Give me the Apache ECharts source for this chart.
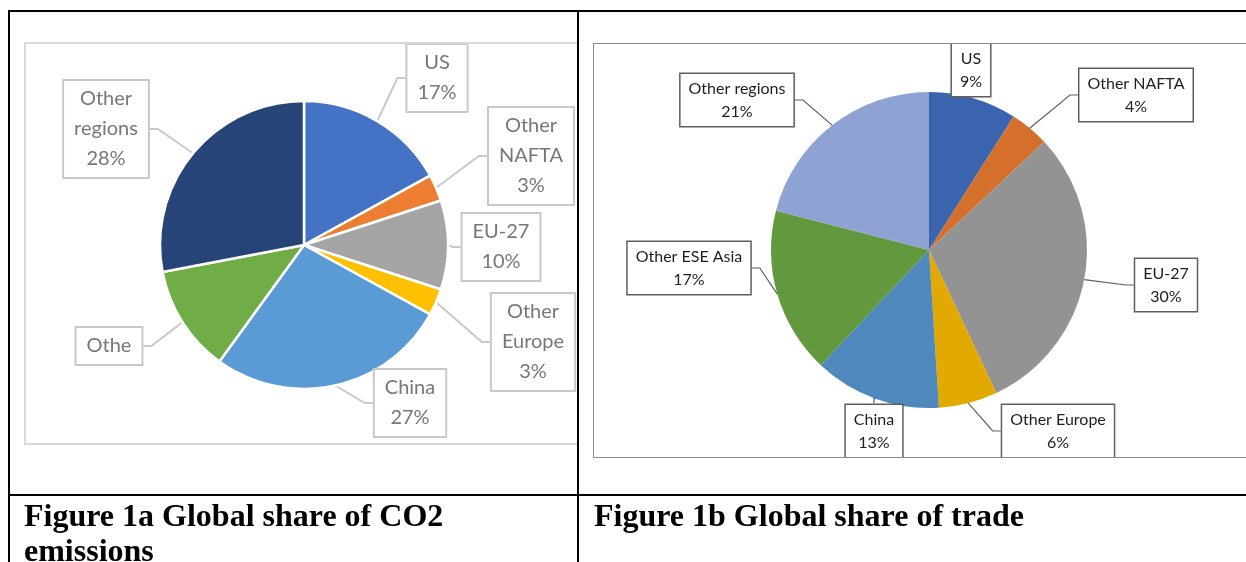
<!DOCTYPE html>
<html>
<head>
<meta charset="utf-8">
<title>Global share of CO2 emissions and trade</title>
<script src="https://cdn.jsdelivr.net/npm/echarts@6/dist/echarts.min.js"></script>
<style>
  html, body { margin: 0; padding: 0; background: #fff; width: 1246px; height: 562px; overflow: hidden; }
  #page { position: absolute; left: 0; top: 0; width: 1246px; height: 562px; }
  .frame { position: absolute; overflow: hidden; background: #fff; box-sizing: border-box; }
  #co2Frame { left: 24px; top: 42px; width: 553px; height: 403px;
              border-left: 2px solid #d9d9d9; border-top: 2px solid #d9d9d9; border-bottom: 2px solid #d9d9d9; }
  #tradeFrame { left: 593px; top: 43px; width: 660px; height: 415px;
                border: 1px solid #8a8a8a; }
  .chart { position: absolute; left: 0; top: 0; }
  #co2Chart { width: 551px; height: 399px; }
  #tradeChart { width: 658px; height: 413px; }
</style>
</head>
<body>
<div id="page"></div>
<div id="co2Frame" class="frame"><div id="co2Chart" class="chart"></div></div>
<div id="tradeFrame" class="frame"><div id="tradeChart" class="chart"></div></div>
<script>
// Figure 1a: global share of CO2 emissions (%)
const co2Regions = ['US', 'Other NAFTA', 'EU-27', 'Other Europe', 'China', 'Other ESE Asia', 'Other regions'];
const co2Share = [17, 3, 10, 3, 27, 12, 28];
// label text as printed on the callouts (the ESE Asia callout is cut short)
const co2LabelText = ['US', 'Other\nNAFTA', 'EU-27', 'Other\nEurope', 'China', 'Othe', 'Other\nregions'];
const co2ShowValue = [true, true, true, true, true, false, true];

// Figure 1b: global share of trade (%)
const tradeRegions = ['US', 'Other NAFTA', 'EU-27', 'Other Europe', 'China', 'Other ESE Asia', 'Other regions'];
const tradeShare = [9, 4, 30, 6, 13, 17, 21];

// captions
const captionA = ['Figure 1a Global share of CO2', 'emissions'];
const captionB = ['Figure 1b Global share of trade'];

// colours
const co2Colors = ['#4472c4', '#ed7d31', '#a5a5a5', '#ffc000', '#5b9bd5', '#70ad47', '#264478'];
const tradeColors = ['#3a64ad', '#d4702c', '#939393', '#e2aa00', '#4f88bc', '#62983e', '#8ea3d3'];

// callout box centres inside each chart
const co2LabelPos = [[411, 34], [505, 112], [475, 203], [507, 298], [384, 359], [83, 302], [80, 85]];
const tradeLabelPos = [[377, 26], [542, 51], [572, 241], [464, 387], [280, 387], [95, 224], [143, 56]];

// ---- table grid and captions ----
const page = echarts.init(document.getElementById('page'), null, { renderer: 'canvas' });
const lineStyle = { fill: '#000' };
const capFont = 'bold 32px "Liberation Serif", "Times New Roman", serif';
const pageGraphics = [
  { type: 'rect', shape: { x: 8, y: 10, width: 1238, height: 2 }, style: lineStyle },
  { type: 'rect', shape: { x: 8, y: 10, width: 2, height: 552 }, style: lineStyle },
  { type: 'rect', shape: { x: 577, y: 10, width: 2, height: 552 }, style: lineStyle },
  { type: 'rect', shape: { x: 8, y: 494, width: 1238, height: 2 }, style: lineStyle }
];
captionA.forEach((t, i) => pageGraphics.push({
  type: 'text', style: { text: t, x: 24, y: 518 + i * 35, font: capFont, fill: '#000', verticalAlign: 'middle' }
}));
captionB.forEach((t, i) => pageGraphics.push({
  type: 'text', style: { text: t, x: 594, y: 518 + i * 35, font: capFont, fill: '#000', verticalAlign: 'middle' }
}));
page.setOption({ animation: false, graphic: pageGraphics });

// ---- Figure 1a pie ----
const co2Chart = echarts.init(document.getElementById('co2Chart'));
co2Chart.setOption({
  animation: false,
  color: co2Colors,
  series: [{
    type: 'pie',
    center: [278, 201],
    radius: 144,
    startAngle: 90,
    clockwise: true,
    avoidLabelOverlap: false,
    itemStyle: { borderColor: '#fff', borderWidth: 2.5 },
    data: co2Regions.map((name, i) => ({ name, value: co2Share[i] })),
    label: {
      show: true,
      position: 'outside',
      formatter: p => co2ShowValue[p.dataIndex]
        ? co2LabelText[p.dataIndex] + '\n' + p.value + '%'
        : co2LabelText[p.dataIndex],
      fontFamily: 'Lato, "Noto Sans", sans-serif',
      fontSize: 20,
      lineHeight: 30,
      color: '#777777',
      align: 'center',
      backgroundColor: '#fff',
      borderColor: '#c9c9c9',
      borderWidth: 2,
      padding: [3, 10]
    },
    labelLine: { show: true, length: 12, length2: 8, lineStyle: { color: '#c9c9c9', width: 2 } },
    labelLayout: p => ({
      x: co2LabelPos[p.dataIndex][0],
      y: co2LabelPos[p.dataIndex][1],
      align: 'center',
      verticalAlign: 'middle'
    })
  }]
});

// ---- Figure 1b pie ----
const tradeChart = echarts.init(document.getElementById('tradeChart'));
tradeChart.setOption({
  animation: false,
  color: tradeColors,
  series: [{
    type: 'pie',
    center: [335, 206],
    radius: 158,
    startAngle: 90,
    clockwise: true,
    avoidLabelOverlap: false,
    itemStyle: { borderWidth: 0 },
    data: tradeRegions.map((name, i) => ({ name, value: tradeShare[i] })),
    label: {
      show: true,
      position: 'outside',
      formatter: p => p.name + '\n' + p.value + '%',
      fontFamily: 'Lato, "Noto Sans", sans-serif',
      fontSize: 16,
      lineHeight: 23,
      color: '#1e1e1e',
      align: 'center',
      backgroundColor: '#fff',
      borderColor: '#5e5e5e',
      borderWidth: 1.5,
      padding: [3, 8]
    },
    labelLine: { show: true, length: 12, length2: 8, lineStyle: { color: '#5e5e5e', width: 1.2 } },
    labelLayout: p => ({
      x: tradeLabelPos[p.dataIndex][0],
      y: tradeLabelPos[p.dataIndex][1],
      align: 'center',
      verticalAlign: 'middle'
    })
  }]
});
</script>
</body>
</html>
